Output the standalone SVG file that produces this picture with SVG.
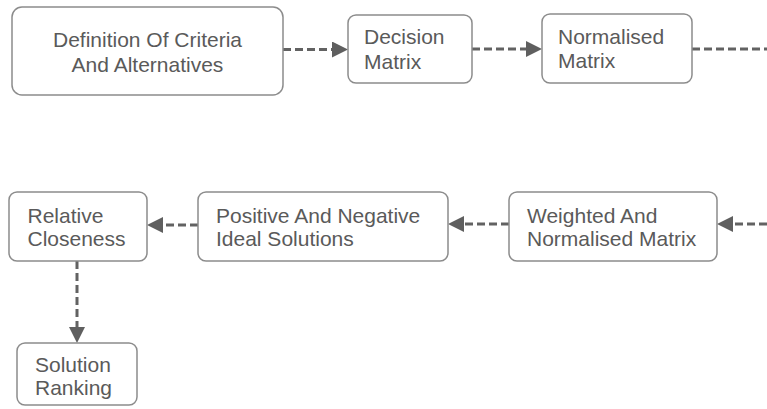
<svg xmlns="http://www.w3.org/2000/svg" width="767" height="409" viewBox="0 0 767 409">
<style>
.box{fill:#fff;stroke:#8c8c8c;stroke-width:1.5}
.t{font-family:"Liberation Sans",Arial,sans-serif;font-size:21px;fill:#5a5a5a}
.c{text-anchor:middle}
.e{fill:none;stroke:#626262;stroke-width:3;stroke-dasharray:8 4}
</style>
<defs>
<marker id="ah" markerWidth="16" markerHeight="16" refX="0" refY="8" orient="auto" markerUnits="userSpaceOnUse">
<path d="M0,0 L16,8 L0,16 z" fill="#5f5f5f"/>
</marker>
</defs>
<rect width="767" height="409" fill="#fff"/>
<g id="connectors">
<line class="e" x1="283" y1="49.5" x2="332" y2="49.5" marker-end="url(#ah)"/>
<line class="e" x1="472" y1="49" x2="526" y2="49" marker-end="url(#ah)"/>
<line class="e" x1="692" y1="49" x2="767" y2="49"/>
<line class="e" x1="767" y1="224" x2="733" y2="224" marker-end="url(#ah)"/>
<line class="e" x1="509" y1="224" x2="464" y2="224" marker-end="url(#ah)"/>
<line class="e" x1="198" y1="225" x2="163" y2="225" marker-end="url(#ah)"/>
<line class="e" x1="77" y1="261" x2="77" y2="327" marker-end="url(#ah)"/>
</g>
<g id="n1"><rect class="box" x="12" y="7" width="271" height="88" rx="10"/>
<text class="t c" x="147.5" y="47">Definition Of Criteria</text>
<text class="t c" x="147.5" y="72">And Alternatives</text></g>
<g id="n2"><rect class="box" x="348" y="15" width="124" height="68" rx="8"/>
<text class="t" x="364" y="44">Decision</text>
<text class="t" x="364" y="68.5">Matrix</text></g>
<g id="n3"><rect class="box" x="542" y="14" width="150" height="69" rx="8"/>
<text class="t" x="558" y="43.5">Normalised</text>
<text class="t" x="558" y="68">Matrix</text></g>
<g id="n4"><rect class="box" x="509" y="192" width="208" height="69" rx="8"/>
<text class="t" x="527" y="222.5">Weighted And</text>
<text class="t" x="527" y="245.5">Normalised Matrix</text></g>
<g id="n5"><rect class="box" x="198" y="192" width="250" height="69" rx="8"/>
<text class="t" x="216" y="222.5">Positive And Negative</text>
<text class="t" x="216" y="245.5">Ideal Solutions</text></g>
<g id="n6"><rect class="box" x="9" y="192" width="138" height="69" rx="8"/>
<text class="t" x="27.5" y="222.5">Relative</text>
<text class="t" x="27.5" y="245.5">Closeness</text></g>
<g id="n7"><rect class="box" x="17" y="343" width="120" height="62" rx="8"/>
<text class="t" x="35" y="372">Solution</text>
<text class="t" x="35" y="395">Ranking</text></g>
</svg>
